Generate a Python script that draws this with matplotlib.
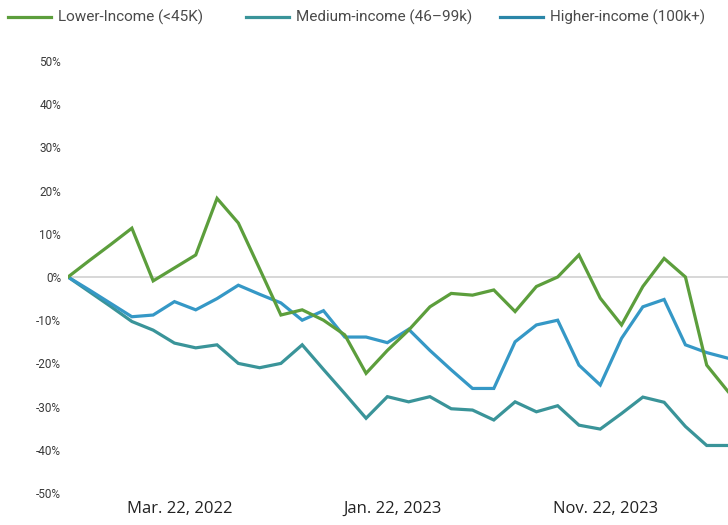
import matplotlib
matplotlib.use("Agg")
import matplotlib.pyplot as plt
from matplotlib.lines import Line2D
from matplotlib import font_manager
import pandas as pd

# Monthly change in spending by household income, relative to the first month
dates = pd.date_range("2021-10-22", periods=32, freq=pd.DateOffset(months=1))

lower_income = [0, 3.8, 7.5, 11.3, -0.9, 2.1, 5.1, 18.2, 12.5, 1.9, -8.8, -7.6,
                -10.0, -13.4, -22.3, -17.0, -12.3, -6.9, -3.8, -4.2, -3.0, -8.0,
                -2.2, 0.0, 5.1, -4.9, -11.1, -2.2, 4.3, 0.0, -20.4, -26.5]
medium_income = [0, -3.4, -6.8, -10.3, -12.3, -15.3, -16.4, -15.7, -20.0, -21.0,
                 -20.0, -15.7, -21.4, -27.0, -32.7, -27.7, -28.9, -27.7, -30.5,
                 -30.8, -33.1, -28.9, -31.2, -29.8, -34.3, -35.2, -31.6, -27.8,
                 -29.0, -34.6, -39.0, -39.0]
higher_income = [0, -3.0, -6.1, -9.2, -8.8, -5.7, -7.6, -5.0, -1.9, -4.0, -6.0,
                 -10.0, -7.8, -13.9, -13.9, -15.2, -12.1, -17.0, -21.5, -25.8,
                 -25.8, -15.0, -11.1, -10.0, -20.4, -25.0, -14.2, -6.9, -5.2,
                 -15.7, -17.5, -18.8]

series_labels = ["Lower-Income (<45K)", "Medium-income (46\u201399k)", "Higher-income (100k+)"]
y_ticks = [50, 40, 30, 20, 10, 0, -10, -20, -30, -40, -50]
x_tick_dates = ["2022-03-22", "2023-01-22", "2023-11-22"]

colors = ["#5c9e3c", "#3a9499", "#3598c6"]

installed = {f.name for f in font_manager.fontManager.ttflist}
narrow = "Liberation Sans Narrow" if "Liberation Sans Narrow" in installed else "Roboto"

fig = plt.figure(figsize=(7.28, 5.25), dpi=100)
ax = fig.add_axes([68 / 728, 32 / 525, 660 / 728, 432 / 525])

x = list(range(len(dates)))
# draw order: teal below, blue above, green on top
ax.plot(x, medium_income, color=colors[1], lw=2.3, solid_joinstyle="miter", zorder=3)
ax.plot(x, higher_income, color=colors[2], lw=2.3, solid_joinstyle="miter", zorder=4)
ax.plot(x, lower_income, color=colors[0], lw=2.3, solid_joinstyle="miter", zorder=5)

ax.axhline(0, color="#d4d4d4", lw=1.3, zorder=1)

ax.set_xlim(0, len(dates) - 1)
ax.set_ylim(-50, 50)
ax.set_yticks(y_ticks)
ax.set_yticklabels([f"{v}%" for v in y_ticks], fontfamily=narrow, fontsize=8.5,
                   color="#3a3a3a")

date_list = list(dates.strftime("%Y-%m-%d"))
tick_pos = [date_list.index(d) + 0.25 for d in x_tick_dates]
tick_text = [pd.Timestamp(d).strftime("%b. %d, %Y").replace(" 0", " ") for d in x_tick_dates]
ax.set_xticks(tick_pos)
ax.set_xticklabels(tick_text, fontfamily="Open Sans", fontsize=12, color="#222222")

ax.tick_params(axis="y", length=0, pad=5)
ax.tick_params(axis="x", length=0, pad=6)
for s in ax.spines.values():
    s.set_visible(False)

# legend across the top
legend_x = [8, 246, 500]
legend_y = 1 - 17 / 525
for lx, lab, c in zip(legend_x, series_labels, [colors[0], colors[1], "#2a86a8"]):
    fig.add_artist(Line2D([lx / 728, (lx + 43) / 728], [legend_y, legend_y],
                          color=c, lw=2.3, transform=fig.transFigure))
    fig.text((lx + 50) / 728, legend_y, lab, fontfamily=narrow, fontsize=11,
             color="#4a4a4a", va="center", ha="left")

fig.savefig("out.png", dpi=100)
